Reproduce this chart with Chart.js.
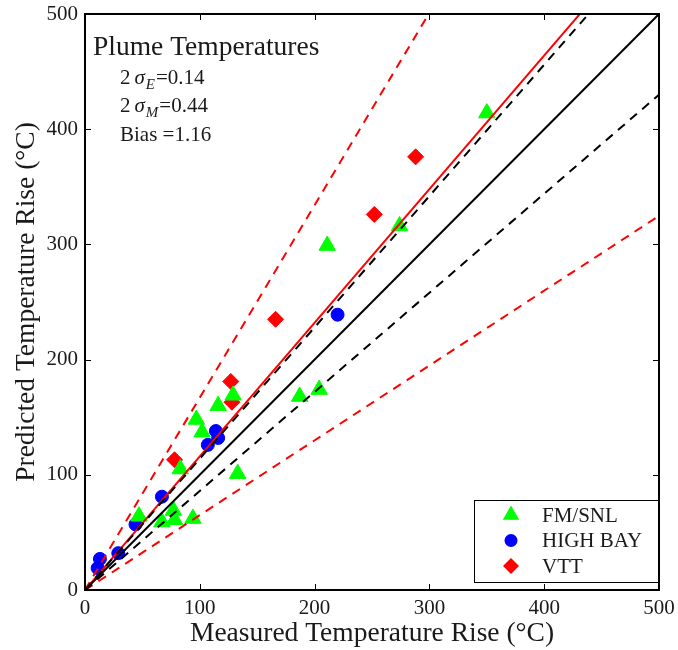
<!DOCTYPE html>
<html lang="en">
<head>
    <meta charset="UTF-8">
    <title>Plume Temperatures</title>
    <script src="https://cdn.jsdelivr.net/npm/chart.js"></script>
    <style>
        body { margin: 0; padding: 0; background: #fff; }
        #wrap { width: 678px; height: 650px; }
    </style>
</head>
<body>
    <div id="wrap"><canvas id="chart"></canvas></div>

    <script>
        // measured vs predicted (°C)
        const fmX = [350, 274, 211, 187, 204, 129, 116, 97, 102, 133, 83, 47, 77, 67, 78, 94];
        const fmY = [414, 316, 299, 168, 174, 169, 160, 148, 137, 101, 105, 64, 69, 59, 61, 62];
        const hbX = [220, 114, 107, 116, 67, 44, 29, 13, 11];
        const hbY = [239, 138, 126, 132, 81, 57, 32, 27, 19];
        const vttX = [288, 252, 166, 127, 128, 78];
        const vttY = [376, 326, 235, 181, 163, 113];

        const seriesNames = ['FM/SNL', 'HIGH BAY', 'VTT'];
        const tickValues = [0, 100, 200, 300, 400, 500];

        // bias and uncertainty bands
        const bias = 1.16;
        const sigmaE2 = 0.14;
        const sigmaM2 = 0.44;

        const FONT = '"Liberation Serif", "DejaVu Serif", serif';

        function pts(xs, ys) { return xs.map((x, i) => ({ x: x, y: ys[i] })); }
        function line(slope) { return [{ x: 0, y: 0 }, { x: 500, y: 500 * slope }]; }

        function lineSet(slope, color, dashed) {
            return {
                type: 'line', data: line(slope), borderColor: color, borderWidth: 2,
                borderDash: dashed ? [9, 7] : [], pointRadius: 0, showLine: true,
                fill: false, order: 0
            };
        }

        const datasets = [
            { label: seriesNames[0], data: pts(fmX, fmY), pointStyle: 'triangle', pointRadius: 9.5,
              backgroundColor: '#00ff00', borderColor: '#00ff00', borderWidth: 1, order: 1 },
            { label: seriesNames[1], data: pts(hbX, hbY), pointStyle: 'circle', pointRadius: 6.5,
              backgroundColor: '#0000ff', borderColor: '#0000ff', borderWidth: 1, order: 1 },
            { label: seriesNames[2], data: pts(vttX, vttY), pointStyle: 'rectRot', pointRadius: 8,
              backgroundColor: '#ff0000', borderColor: '#ff0000', borderWidth: 1, order: 1 },
            lineSet(1, '#000000', false),
            lineSet(1 + sigmaE2, '#000000', true),
            lineSet(1 - sigmaE2, '#000000', true),
            lineSet(bias, '#ff0000', false),
            lineSet(bias * (1 + sigmaM2), '#ff0000', true),
            lineSet(bias * (1 - sigmaM2), '#ff0000', true)
        ];

        function marker(ctx, style, r, x, y) {
            ctx.beginPath();
            if (style === 'circle') {
                ctx.arc(x, y, r, 0, Math.PI * 2);
            } else if (style === 'triangle') {
                ctx.moveTo(x, y - r);
                ctx.lineTo(x + r * 0.866, y + r * 0.5);
                ctx.lineTo(x - r * 0.866, y + r * 0.5);
            } else {
                ctx.moveTo(x, y - r); ctx.lineTo(x + r, y);
                ctx.lineTo(x, y + r); ctx.lineTo(x - r, y);
            }
            ctx.closePath();
            ctx.fill();
        }

        function noScalePad(s) {
            s.paddingTop = 0; s.paddingBottom = 0;
            s.paddingLeft = 0; s.paddingRight = 0;
        }

        const framePlugin = {
            id: 'frame',
            afterDraw(chart) {
                const ctx = chart.ctx;
                const ca = chart.chartArea;
                const xs = chart.scales.x, ys = chart.scales.y;
                ctx.save();
                ctx.strokeStyle = '#000';
                ctx.lineWidth = 2;
                ctx.strokeRect(ca.left, ca.top, ca.right - ca.left, ca.bottom - ca.top);
                ctx.lineWidth = 1;
                const tl = 6;
                tickValues.forEach(v => {
                    const px = Math.round(xs.getPixelForValue(v)) + 0.5;
                    const py = Math.round(ys.getPixelForValue(v)) + 0.5;
                    ctx.beginPath();
                    ctx.moveTo(px, ca.bottom); ctx.lineTo(px, ca.bottom - tl);
                    ctx.moveTo(px, ca.top); ctx.lineTo(px, ca.top + tl);
                    ctx.moveTo(ca.left, py); ctx.lineTo(ca.left + tl, py);
                    ctx.moveTo(ca.right, py); ctx.lineTo(ca.right - tl, py);
                    ctx.stroke();
                });

                // annotation text
                ctx.fillStyle = '#1a1a1a';
                ctx.textBaseline = 'alphabetic';
                ctx.font = '27.5px ' + FONT;
                ctx.fillText('Plume Temperatures', ca.left + 8, ca.top + 41);
                function sigmaLine(sub, val, y) {
                    let x = ca.left + 35;
                    ctx.font = '21px ' + FONT;
                    ctx.fillText('2', x, y); x += ctx.measureText('2').width + 4;
                    ctx.font = 'italic 21px ' + FONT;
                    ctx.fillText('σ', x, y); x += ctx.measureText('σ').width + 1;
                    ctx.font = 'italic 15px ' + FONT;
                    ctx.fillText(sub, x, y + 5); x += ctx.measureText(sub).width + 1;
                    ctx.font = '21px ' + FONT;
                    ctx.fillText('=' + val.toFixed(2), x, y);
                }
                sigmaLine('E', sigmaE2, ca.top + 70);
                sigmaLine('M', sigmaM2, ca.top + 98);
                ctx.font = '21px ' + FONT;
                ctx.fillText('Bias =' + bias.toFixed(2), ca.left + 35, ca.top + 127);

                // legend box
                const lw = 184, lh = 82;
                const lx = ca.right - lw - 1, ly = ca.bottom - lh - 8;
                ctx.fillStyle = '#fff';
                ctx.fillRect(lx, ly, lw, lh);
                ctx.lineWidth = 1;
                ctx.strokeStyle = '#000';
                ctx.strokeRect(lx + 0.5, ly + 0.5, lw, lh);
                ctx.font = '21px ' + FONT;
                ctx.textBaseline = 'middle';
                for (let i = 0; i < 3; i++) {
                    const ds = chart.data.datasets[i];
                    const yy = ly + 15 + i * 25.5;
                    ctx.fillStyle = ds.backgroundColor;
                    marker(ctx, ds.pointStyle, ds.pointRadius, lx + 37, yy);
                    ctx.fillStyle = '#1a1a1a';
                    ctx.fillText(ds.label, lx + 68, yy + 1);
                }
                ctx.restore();
            }
        };

        new Chart(document.getElementById('chart'), {
            type: 'scatter',
            data: { datasets: datasets },
            plugins: [framePlugin],
            options: {
                responsive: true,
                maintainAspectRatio: false,
                animation: false,
                layout: { padding: { left: 6, right: 19, top: 14, bottom: 0 } },
                plugins: { legend: { display: false }, tooltip: { enabled: false } },
                scales: {
                    x: {
                        type: 'linear', min: 0, max: 500,
                        afterBuildTicks: s => { s.ticks = tickValues.map(v => ({ value: v })); },
                        afterFit: s => { s.height = 60; noScalePad(s); },
                        grid: { display: false, drawTicks: false },
                        border: { display: false },
                        ticks: { padding: 6, color: '#1a1a1a', font: { family: FONT, size: 21 } },
                        title: { display: true, text: 'Measured Temperature Rise (°C)', color: '#1a1a1a',
                                 padding: { top: 0, bottom: 0 }, font: { family: FONT, size: 27.5 } }
                    },
                    y: {
                        type: 'linear', min: 0, max: 500,
                        afterBuildTicks: s => { s.ticks = tickValues.map(v => ({ value: v })); },
                        afterFit: s => { s.width = 79; noScalePad(s); },
                        grid: { display: false, drawTicks: false },
                        border: { display: false },
                        ticks: { padding: 7, color: '#1a1a1a', font: { family: FONT, size: 21 } },
                        title: { display: true, text: 'Predicted Temperature Rise (°C)', color: '#1a1a1a',
                                 padding: { top: 4, bottom: 4 }, font: { family: FONT, size: 27.5 } }
                    }
                }
            }
        });
    </script>
</body>
</html>
